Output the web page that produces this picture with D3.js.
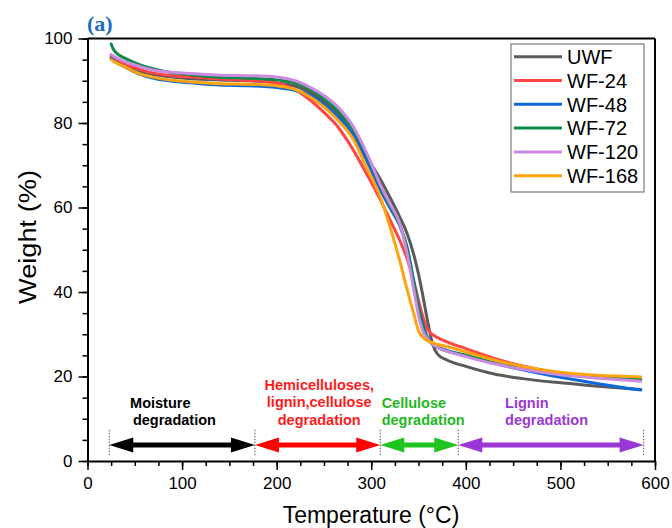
<!DOCTYPE html>
<html><head><meta charset="utf-8">
<script src="https://cdn.jsdelivr.net/npm/d3@7/dist/d3.min.js"></script>
<style>
body{margin:0;background:#fff}
svg{display:block}
text{font-family:Arial,"Liberation Sans",Helvetica,sans-serif}
</style>
</head><body>
<svg id="chart" width="672" height="528"></svg>
<script>
// ---------- data ----------
const temperatures = [25,27,30,40,55,70,90,110,140,170,200,220,235,250,265,280,295,310,320,330,338,345,350,355,360,365,370,380,400,430,460,500,540,585];
const seriesNames = ["UWF","WF-24","WF-48","WF-72","WF-120","WF-168"];
const uwfWeight  = [95.6,95.3,95.0,93.8,92.3,91.5,90.9,90.5,90.2,90.0,89.5,88.7,87.3,85.0,82.3,77.5,72.0,66.5,62.3,57.8,53.8,48.8,44.2,38.6,32.6,27.6,25.3,23.9,22.4,20.6,19.5,18.5,17.7,16.9];
const wf24Weight = [96.0,95.7,95.2,94.0,92.7,91.8,91.2,90.9,90.4,90.1,89.5,87.8,85.5,82.5,79.0,74.0,68.0,61.7,57.0,52.3,47.8,42.6,38.0,33.8,31.0,29.9,29.2,28.2,26.6,24.3,22.5,20.8,19.9,19.1];
const wf48Weight = [95.2,94.9,94.4,93.2,91.6,90.6,89.9,89.5,89.0,88.8,88.4,87.7,86.6,84.4,81.4,77.6,71.2,64.0,59.8,55.8,50.5,42.5,36.5,32.0,29.0,27.7,27.0,26.2,25.0,23.1,21.6,19.8,18.3,16.8];
const wf72Weight = [98.7,97.6,96.7,95.3,93.8,92.8,91.9,91.4,90.8,90.6,90.2,89.4,88.0,85.7,82.8,78.8,72.6,65.0,60.4,56.0,50.2,42.0,36.0,31.5,28.8,27.6,26.9,26.0,25.0,23.3,22.0,20.8,20.0,19.3];
const wf120Weight= [96.2,95.9,95.5,94.5,93.4,92.5,92.0,91.7,91.3,91.2,90.9,90.0,88.5,86.5,83.7,79.5,73.0,65.2,60.8,56.3,49.0,40.5,34.5,30.5,28.8,27.6,26.9,26.0,24.7,23.0,21.7,20.4,19.6,18.9];
const wf168Weight= [95.0,94.7,94.3,93.2,91.7,90.8,90.1,89.7,89.3,89.2,88.8,87.9,86.2,83.8,80.6,76.5,69.5,62.2,55.3,47.5,40.5,34.8,30.8,29.2,28.4,28.0,27.6,27.1,25.8,23.9,22.4,21.0,20.3,19.9];
const seriesColors = ["#5a5a5a","#ff4646","#0d68d8","#0e8a4a","#cc8ae0","#ffa30f"];
const xTickLabels = [0,100,200,300,400,500,600];
const yTickLabels = [0,20,40,60,80,100];
// degradation stages (temperature boundaries)
const stageNames = [["Moisture","degradation"],["Hemicelluloses,","lignin,cellulose","degradation"],["Cellulose","degradation"],["Lignin","degradation"]];
const stageStart = [23,177,309.5,392];
const stageEnd   = [177,309.5,392,588];
const stageColors = ["#000000","#ff0000","#1fc41f","#9a35d6"];
const stageTextColors = ["#000000","#ff1a1a","#1fb81f","#9a38d2"];

// ---------- setup ----------
const svg = d3.select("#chart");
const x = d3.scaleLinear().domain([0,600]).range([87.5,655]);
const y = d3.scaleLinear().domain([0,100]).range([461,38.5]);

const allSeries = [uwfWeight,wf24Weight,wf48Weight,wf72Weight,wf120Weight,wf168Weight];

// frame top/right
svg.append("line").attr("x1",x(0)).attr("x2",x(600)).attr("y1",y(100)).attr("y2",y(100)).attr("stroke","#000").attr("stroke-width",2);
svg.append("line").attr("x1",x(600)).attr("x2",x(600)).attr("y1",y(100)).attr("y2",y(0)).attr("stroke","#000").attr("stroke-width",2);

// axes: minor ticks
const xMinor = d3.range(0,601,25), yMinor = d3.range(0,101,5);
svg.append("g").attr("transform",`translate(0,${y(0)})`)
  .call(d3.axisBottom(x).tickValues(xMinor).tickSize(5).tickFormat(""))
  .call(g=>{g.select(".domain").remove(); g.selectAll("line").attr("stroke-width",1.5);});
svg.append("g").attr("transform",`translate(${x(0)},0)`)
  .call(d3.axisLeft(y).tickValues(yMinor).tickSize(5).tickFormat(""))
  .call(g=>{g.select(".domain").remove(); g.selectAll("line").attr("stroke-width",1.5);});
// major
const xAxis = svg.append("g").attr("transform",`translate(0,${y(0)})`)
  .call(d3.axisBottom(x).tickValues(xTickLabels).tickSize(9).tickPadding(7).tickSizeOuter(0));
xAxis.select(".domain").attr("stroke-width",2);
xAxis.selectAll("line").attr("stroke-width",1.5);
xAxis.selectAll("text").attr("font-size",17).attr("fill","#000").style("font-family","Arial, 'Liberation Sans', sans-serif");
const yAxis = svg.append("g").attr("transform",`translate(${x(0)},0)`)
  .call(d3.axisLeft(y).tickValues(yTickLabels).tickSize(9).tickPadding(6).tickSizeOuter(0));
yAxis.select(".domain").attr("stroke-width",2);
yAxis.selectAll("line").attr("stroke-width",1.5);
yAxis.selectAll("text").attr("font-size",17).attr("fill","#000").style("font-family","Arial, 'Liberation Sans', sans-serif");

// axis titles
svg.append("text").attr("transform",`translate(28,237) rotate(-90)`).attr("text-anchor","middle")
  .attr("dominant-baseline","central").attr("font-size",23).attr("textLength",134).attr("lengthAdjust","spacingAndGlyphs").text("Weight (%)");
svg.append("text").attr("x",371).attr("y",523).attr("text-anchor","middle").attr("font-size",23).text("Temperature (°C)");

// panel label
svg.append("text").attr("x",87).attr("y",31).attr("font-size",22).attr("font-weight","bold")
  .style("font-family","'Times New Roman','Liberation Serif',serif").attr("fill","#1a6cc4").text("(a)");

// curves
const line = d3.line().x((d,i)=>x(temperatures[i])).y(d=>y(d)).curve(d3.curveMonotoneX);
allSeries.forEach((s,i)=>{
  svg.append("path").datum(s).attr("d",line).attr("fill","none")
    .attr("stroke",seriesColors[i]).attr("stroke-width",3).attr("stroke-linecap","round");
});

// stage markers
const arrowW = 3.8, headL = 24, headH = 7.5;
const bounds = [stageStart[0]].concat(stageEnd);
bounds.forEach(t=>{
  svg.append("line").attr("x1",x(t)).attr("x2",x(t)).attr("y1",y(7.4)).attr("y2",y(1.3))
    .attr("stroke","#555").attr("stroke-width",1).attr("stroke-dasharray","1.5,1.5");
});
stageStart.forEach((t0,i)=>{
  const x0 = x(t0), x1 = x(stageEnd[i]), yy = y(arrowW), c = stageColors[i];
  svg.append("line").attr("x1",x0+headL-4).attr("x2",x1-headL+4).attr("y1",yy).attr("y2",yy)
    .attr("stroke",c).attr("stroke-width",5);
  svg.append("path").attr("d",`M${x0},${yy}L${x0+headL},${yy-headH}L${x0+headL},${yy+headH}Z`).attr("fill",c);
  svg.append("path").attr("d",`M${x1},${yy}L${x1-headL},${yy-headH}L${x1-headL},${yy+headH}Z`).attr("fill",c);
});

// stage labels
const stageTextT = [[45,48],[245,245,245],[311,311],[441.5,441.5]];
const stageTextW = [[12.6,8.6],[16.9,12.8,8.6],[12.6,8.6],[12.6,8.6]];
const stageAnchor = ["start","middle","start","start"];
stageNames.forEach((lines,i)=>{
  lines.forEach((txt,j)=>{
    svg.append("text").attr("x",x(stageTextT[i][j])).attr("y",y(stageTextW[i][j]))
      .attr("text-anchor",stageAnchor[i]).attr("font-size",14.5).attr("font-weight","bold")
      .attr("fill",stageTextColors[i]).text(txt);
  });
});

// legend
const lg = svg.append("g");
lg.append("rect").attr("x",511).attr("y",44).attr("width",133).attr("height",148)
  .attr("fill","#fff").attr("stroke","#7a7a7a").attr("stroke-width",1.2);
seriesNames.forEach((n,i)=>{
  const yy = 56.7 + i*23.8;
  lg.append("line").attr("x1",514).attr("x2",562).attr("y1",yy).attr("y2",yy)
    .attr("stroke",seriesColors[i]).attr("stroke-width",3);
  lg.append("text").attr("x",567).attr("y",yy).attr("dy","0.36em").attr("font-size",20).text(n);
});
</script>
</body></html>
